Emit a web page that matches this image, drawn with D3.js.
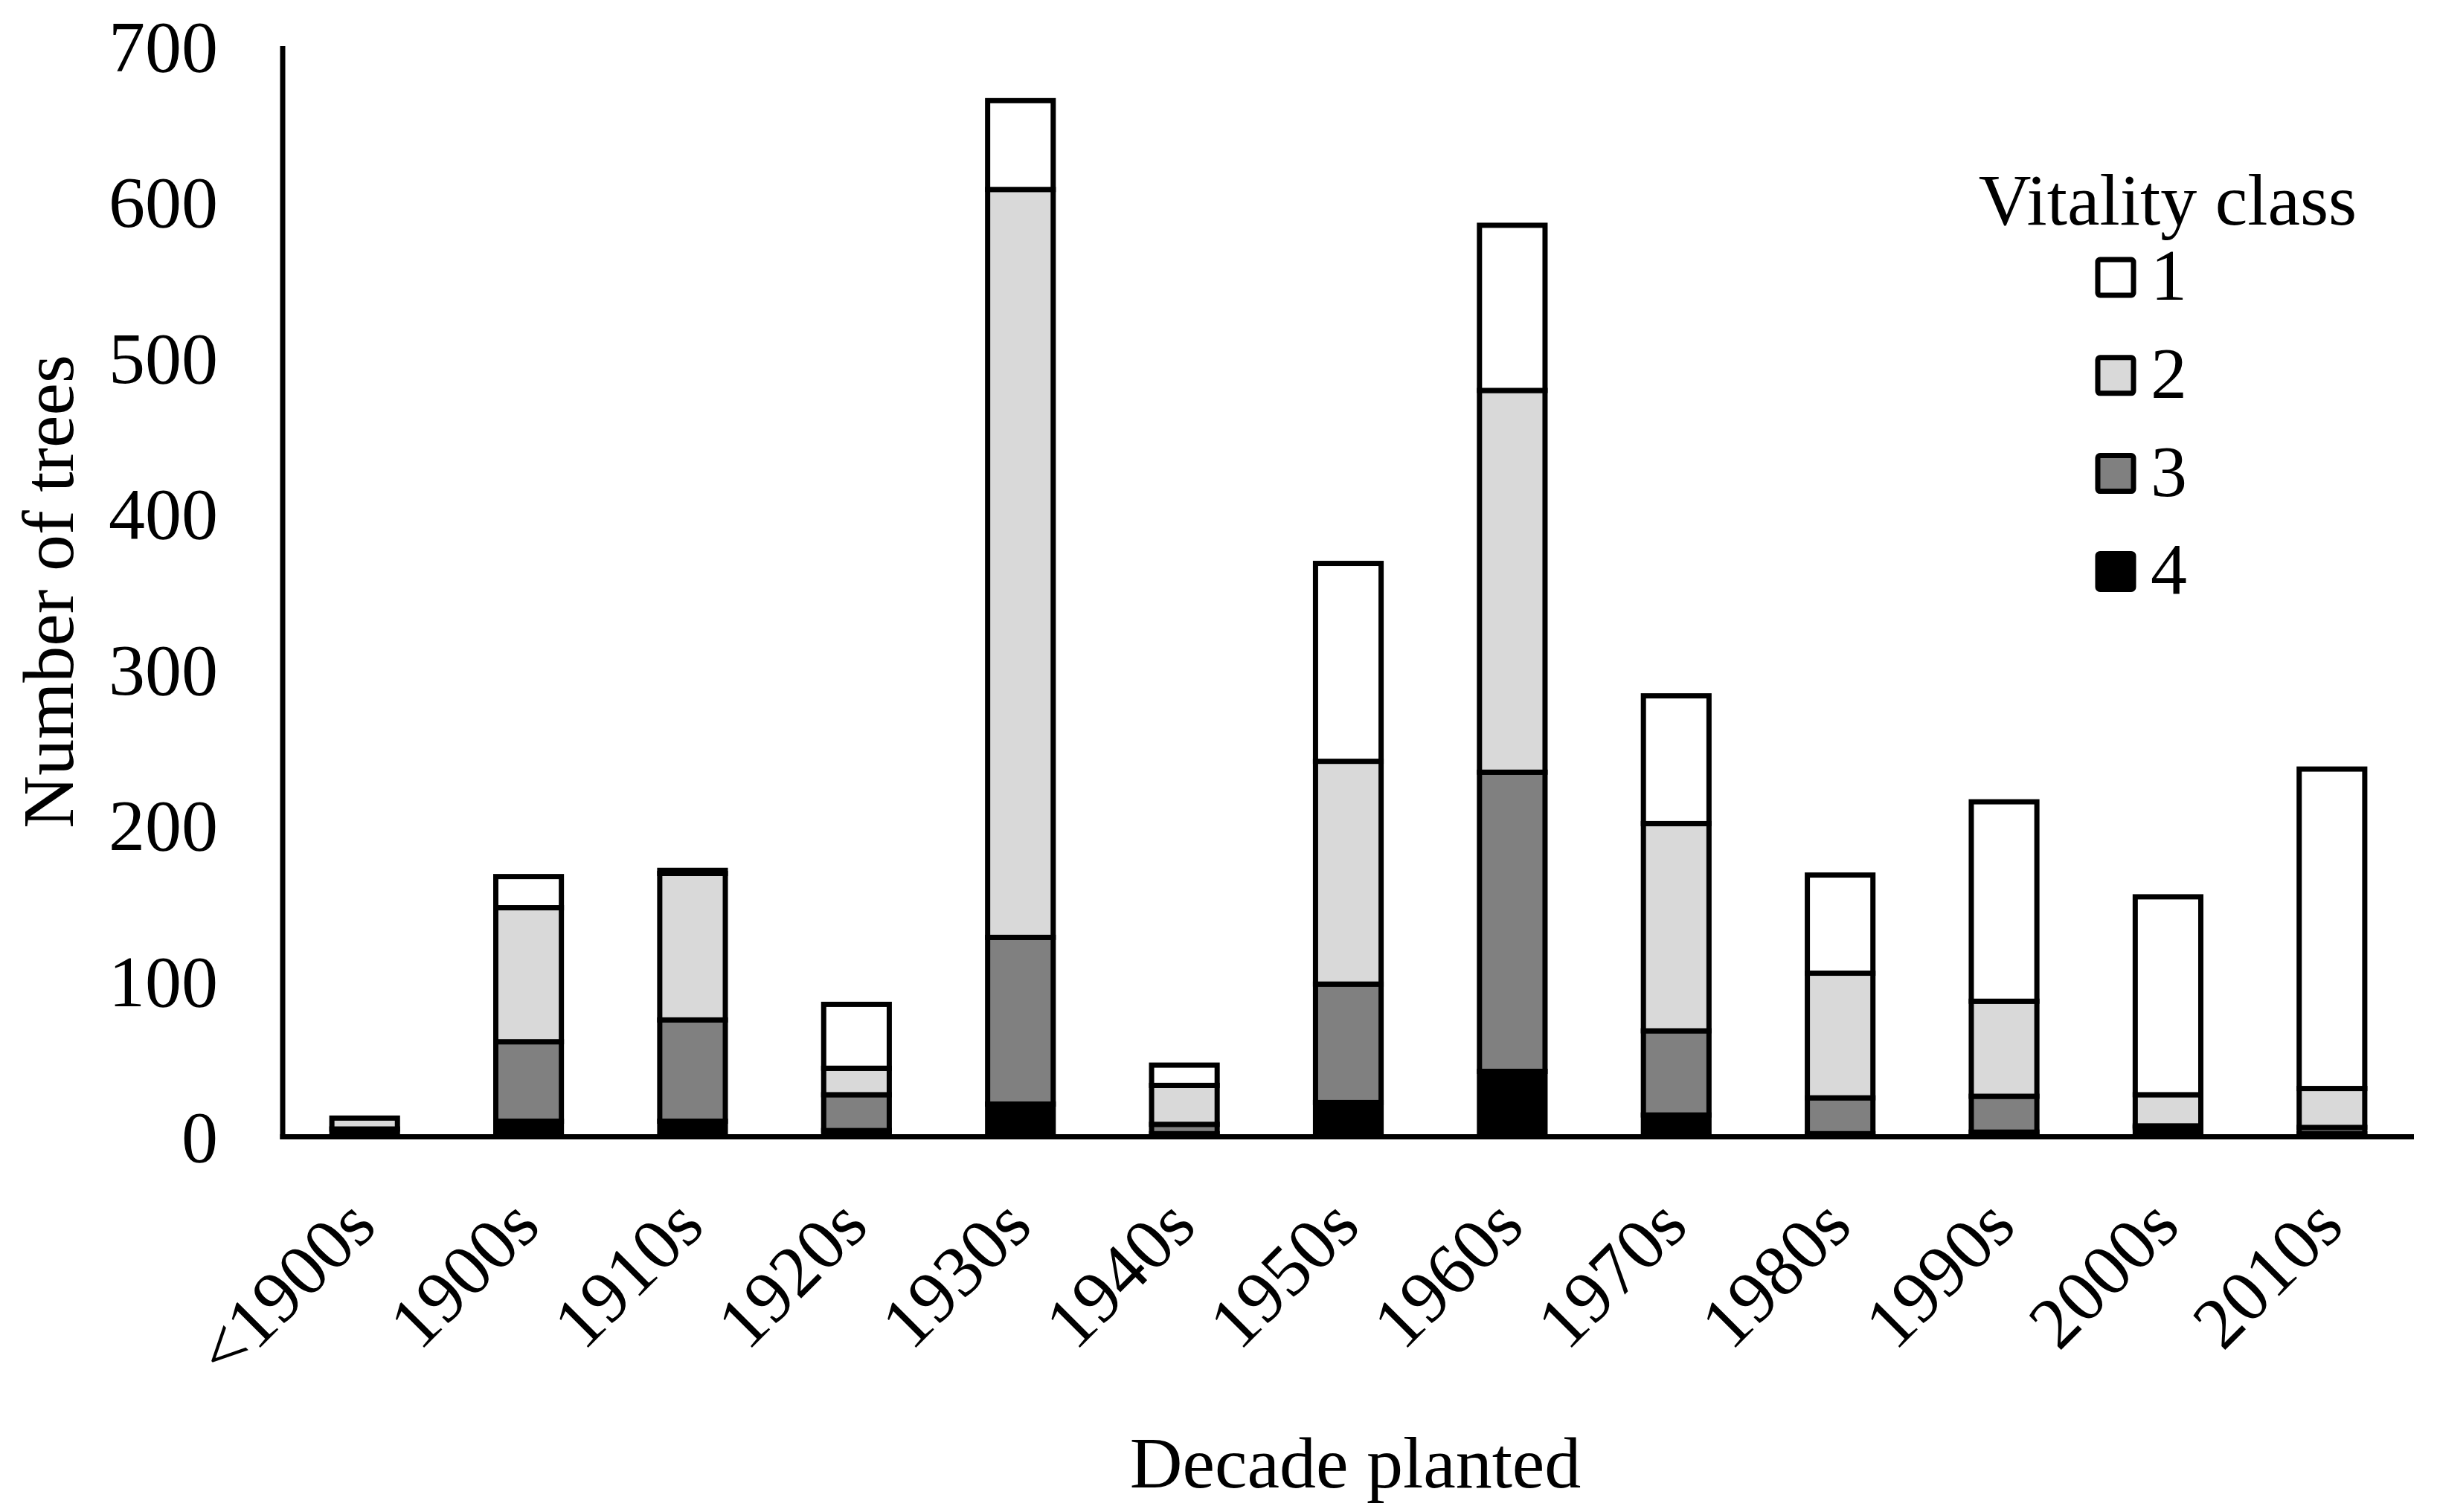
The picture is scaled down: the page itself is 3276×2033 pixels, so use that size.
<!DOCTYPE html>
<html>
<head>
<meta charset="utf-8">
<script src="https://cdn.jsdelivr.net/npm/d3@7"></script>
<style>
  body { margin: 0; background: #fff; }
  text { font-family: "Liberation Serif", "Times New Roman", serif; fill: #000; }
</style>
</head>
<body>
<svg id="chart" width="3276" height="2033"></svg>
<script>
// trees per decade planted, split by vitality class
var decades = ["<1900s", "1900s", "1910s", "1920s", "1930s", "1940s", "1950s",
               "1960s", "1970s", "1980s", "1990s", "2000s", "2010s"];
var class1 = [0, 20, 2, 41, 57, 13, 127, 106, 82, 63, 128, 127, 205];
var class2 = [7, 86, 94, 17, 480, 25, 143, 245, 133, 80, 61, 20, 25];
var class3 = [0, 51, 65, 23, 107, 6, 76, 192, 54, 23, 23, 1, 4];
var class4 = [5, 10, 10, 4, 21, 2, 22, 42, 14, 2, 3, 6, 2];
var yTicks = [0, 100, 200, 300, 400, 500, 600, 700];
var classNames = ["1", "2", "3", "4"];

var svg = d3.select("#chart");
var fontSize = 98;
var lineW = 7;

// plot area (note: "top" is taken by window.top, so prefix everything)
var plotLeft = 380, plotRight = 3245, plotTop = 62, plotBottom = 1528.5;

var x = d3.scaleBand()
          .domain(decades)
          .range([plotLeft, plotRight])
          .paddingInner(0.6)
          .paddingOuter(0.3);

var y = d3.scaleLinear()
          .domain([0, 700])
          .range([plotBottom, plotTop]);

var fills = {"1": "#ffffff", "2": "#d9d9d9", "3": "#808080", "4": "#000000"};

// table for d3.stack, bottom class (4) first
var rows = decades.map(function(d, i){
  return {decade: d, "1": class1[i], "2": class2[i], "3": class3[i], "4": class4[i]};
});
var stacked = d3.stack().keys(["4", "3", "2", "1"])(rows);

//bars
svg.append("g").selectAll("g")
   .data(stacked)
   .join("g")
   .attr("fill", function(s){ return fills[s.key]; })
   .selectAll("rect")
   .data(function(s){ return s; })
   .join("rect")
   .attr("x", function(d){ return x(d.data.decade); })
   .attr("y", function(d){ return y(d[1]); })
   .attr("width", x.bandwidth())
   .attr("height", function(d){ return y(d[0]) - y(d[1]); })
   .attr("stroke", "#000")
   .attr("stroke-width", lineW);

//y axis
var yAxis = svg.append("g")
               .attr("transform", "translate(" + plotLeft + ",0)")
               .call(d3.axisLeft(y).tickValues(yTicks).tickSize(0).tickPadding(87));
yAxis.select(".domain").remove();
yAxis.selectAll("text")
     .attr("font-size", fontSize)
     .attr("dy", "0.34em")
     .style("font-family", "'Liberation Serif', serif");
svg.append("line")
   .attr("x1", plotLeft).attr("x2", plotLeft)
   .attr("y1", plotTop).attr("y2", plotBottom + lineW / 2)
   .attr("stroke", "#000").attr("stroke-width", lineW);

//x axis
var xAxis = svg.append("g")
               .attr("transform", "translate(0," + plotBottom + ")")
               .call(d3.axisBottom(x).tickSize(0));
xAxis.select(".domain").remove();
xAxis.selectAll("text")
     .attr("font-size", fontSize)
     .attr("text-anchor", "end")
     .attr("x", null).attr("y", null).attr("dy", null)
     .attr("transform", "translate(19,124) rotate(-45)")
     .style("font-family", "'Liberation Serif', serif");
svg.append("line")
   .attr("x1", plotLeft - lineW / 2).attr("x2", plotRight)
   .attr("y1", plotBottom).attr("y2", plotBottom)
   .attr("stroke", "#000").attr("stroke-width", lineW);

//axis titles
svg.append("text")
   .attr("x", 1822).attr("y", 2000)
   .attr("text-anchor", "middle")
   .attr("font-size", fontSize)
   .text("Decade planted");
svg.append("text")
   .attr("transform", "translate(98," + ((plotTop + plotBottom) / 2) + ") rotate(-90)")
   .attr("text-anchor", "middle")
   .attr("font-size", fontSize)
   .text("Number of trees");

//legend
var legend = svg.append("g");
legend.append("text")
      .attr("x", 2914).attr("y", 302)
      .attr("text-anchor", "middle")
      .attr("font-size", fontSize)
      .text("Vitality class");
var item = legend.selectAll("g.item")
                 .data(classNames)
                 .join("g")
                 .attr("class", "item")
                 .attr("transform", function(d, i){ return "translate(2820," + (373 + i * 131.8) + ")"; });
item.append("rect")
    .attr("x", 0).attr("y", -24)
    .attr("width", 48).attr("height", 48)
    .attr("rx", 3)
    .attr("fill", function(d){ return fills[d]; })
    .attr("stroke", "#000")
    .attr("stroke-width", lineW);
item.append("text")
    .attr("x", 71).attr("y", 30)
    .attr("font-size", fontSize)
    .text(function(d){ return d; });
</script>
</body>
</html>
